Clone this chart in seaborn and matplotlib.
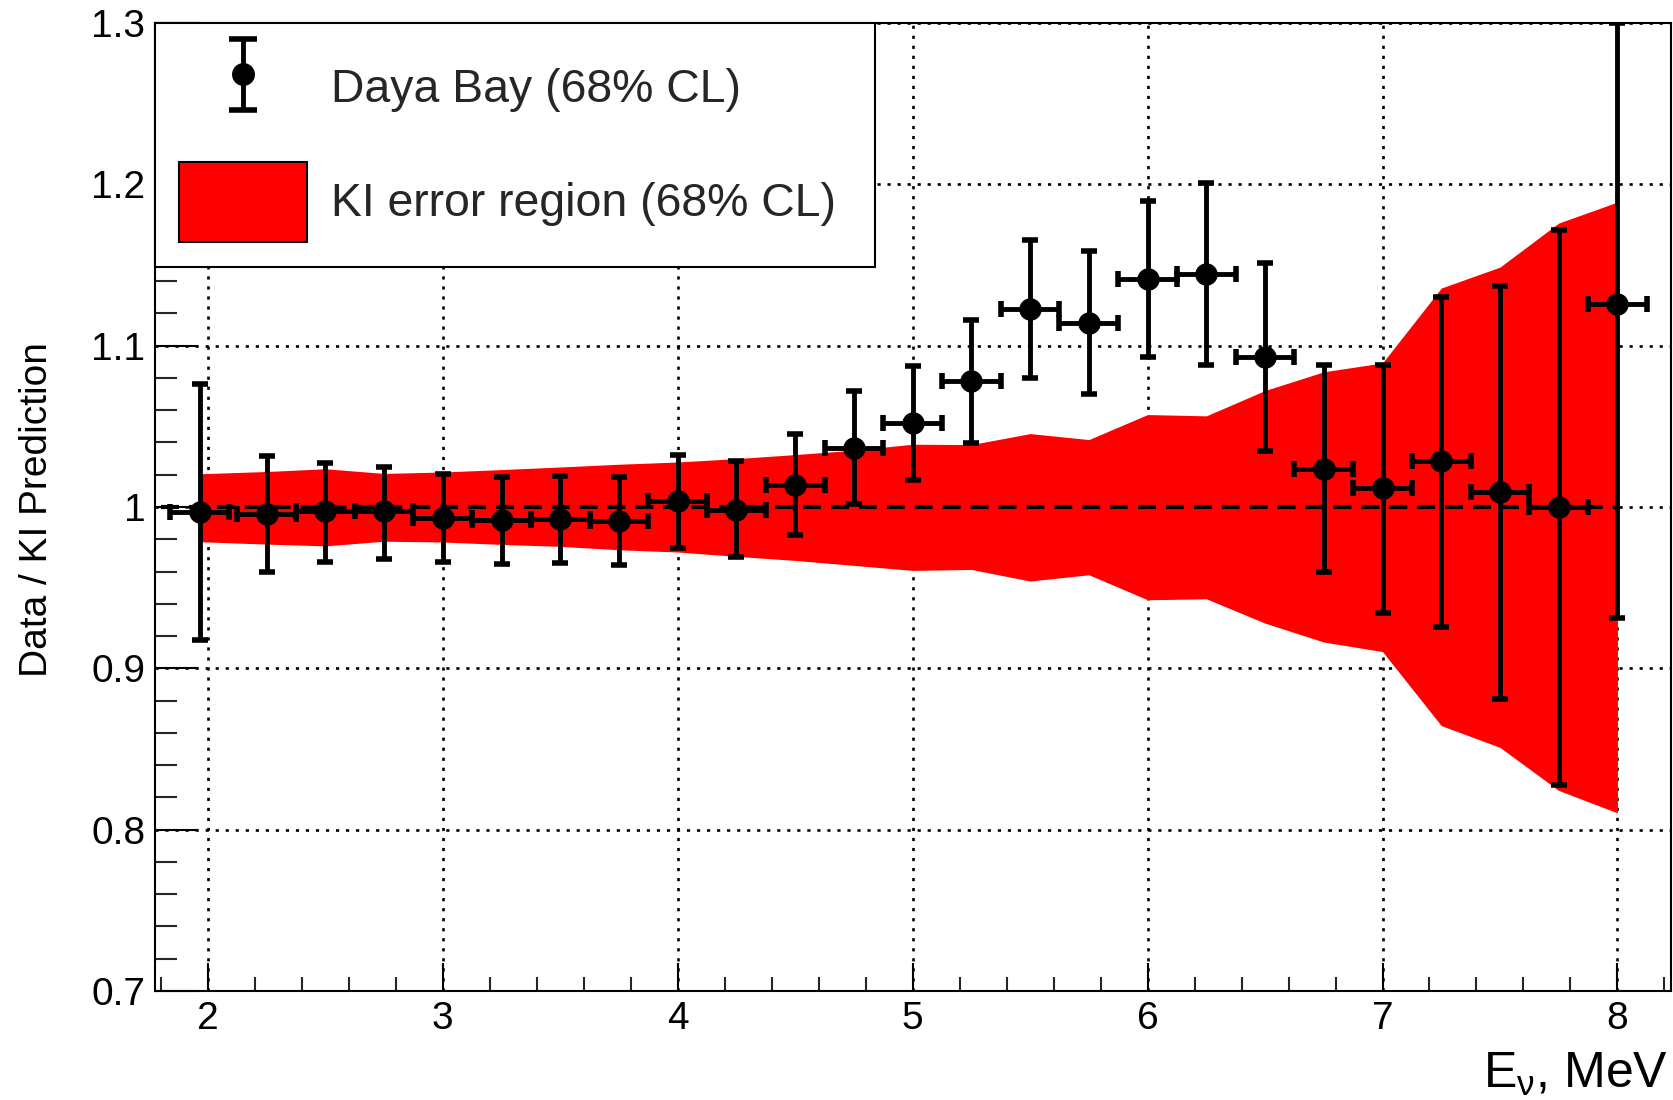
import numpy as np
import matplotlib
matplotlib.use("Agg")
import matplotlib.pyplot as plt
import seaborn as sns
from matplotlib.ticker import MultipleLocator, FixedLocator, FuncFormatter
from matplotlib.patches import Patch
from matplotlib.container import ErrorbarContainer
from matplotlib.legend_handler import HandlerErrorbar

# ---------------- data ----------------
energy = [1.965, 2.25, 2.5, 2.75, 3.0, 3.25, 3.5, 3.75, 4.0, 4.25, 4.5, 4.75,
          5.0, 5.25, 5.5, 5.75, 6.0, 6.25, 6.5, 6.75, 7.0, 7.25, 7.5, 7.75, 8.0]
ratio = [0.997, 0.9955, 0.9975, 0.9975, 0.9934, 0.9917, 0.9923, 0.9913, 1.0035,
         0.9983, 1.0139, 1.0366, 1.0518, 1.0783, 1.1228, 1.1143, 1.1414, 1.1443,
         1.0932, 1.0238, 1.0115, 1.0283, 1.0091, 1.0, 1.1257]
ratio_hi = [1.0765, 1.0315, 1.0275, 1.025, 1.0207, 1.0186, 1.0192, 1.0186, 1.0321,
            1.0283, 1.0451, 1.0721, 1.0874, 1.116, 1.1656, 1.1584, 1.1898, 1.2008,
            1.1512, 1.0878, 1.0883, 1.1304, 1.137, 1.1717, 1.30]
ratio_lo = [0.9176, 0.960, 0.9657, 0.968, 0.9659, 0.9644, 0.9654, 0.9642, 0.9745,
            0.969, 0.9828, 1.0017, 1.0166, 1.0398, 1.0801, 1.0698, 1.0932, 1.088,
            1.0347, 0.9597, 0.9346, 0.9257, 0.8813, 0.8278, 0.9313]
bin_halfwidth = 0.125

band_hi = [1.0206, 1.022, 1.0237, 1.0208, 1.0217, 1.0232, 1.0248, 1.0265, 1.0279,
           1.030, 1.0325, 1.0352, 1.0389, 1.0387, 1.0455, 1.0418, 1.0573, 1.0565,
           1.0722, 1.0838, 1.0893, 1.1357, 1.1487, 1.176, 1.189]
band_lo = [0.9785, 0.977, 0.9759, 0.9788, 0.9783, 0.9768, 0.9756, 0.9735, 0.9721,
           0.9694, 0.9669, 0.9638, 0.9607, 0.9613, 0.9541, 0.958, 0.9425, 0.9431,
           0.928, 0.9163, 0.9104, 0.8645, 0.851, 0.8243, 0.8104]

ref_value = 1.0
ref_from, ref_to = 1.8, 8.0

x_major = [2, 3, 4, 5, 6, 7, 8]
y_major = [0.7, 0.8, 0.9, 1.0, 1.1, 1.2, 1.3]

label_data = "Daya Bay (68% CL)"
label_band = "KI error region (68% CL)"

# ---------------- style ----------------
sns.set_theme(style="ticks")
plt.rcParams["font.family"] = ["Liberation Sans", "DejaVu Sans"]
plt.rcParams["mathtext.fontset"] = "custom"
plt.rcParams["mathtext.rm"] = "Liberation Sans"
plt.rcParams["mathtext.it"] = "Liberation Sans:italic"
plt.rcParams["mathtext.default"] = "regular"

W, H = 1673, 1100
fig = plt.figure(figsize=(W / 100, H / 100), dpi=100)
fig.patch.set_facecolor("white")
ax = fig.add_axes([155 / W, 109 / H, 1516 / W, 968 / H])
ax.set_facecolor("white")

# grid
ax.set_axisbelow(True)
ax.grid(True, which="major", color="black", linestyle=(0, (1.2, 2.6)), linewidth=1.9)

# band
ax.fill_between(energy, band_lo, band_hi, color="#ff0000", linewidth=0, zorder=2)

# reference dashed line
ax.hlines(ref_value, ref_from, ref_to, colors="black", linestyles=(0, (4.3, 2.4)),
          linewidth=3.0, zorder=3)

# error bars
r = np.array(ratio)
yerr = [r - np.array(ratio_lo), np.array(ratio_hi) - r]
ax.errorbar(energy, ratio, xerr=bin_halfwidth, yerr=yerr, fmt="none", ecolor="black",
            elinewidth=3.5, capsize=6, capthick=4, zorder=4)

# points (seaborn)
df = {"energy": energy, "ratio": ratio}
sns.scatterplot(data=df, x="energy", y="ratio", color="black", s=260, linewidth=0,
                zorder=5, ax=ax, legend=False)

# axes limits / ticks
ax.set_xlim(1.775, 8.228)
ax.set_ylim(0.7, 1.3)
ax.xaxis.set_major_locator(FixedLocator(x_major))
ax.xaxis.set_minor_locator(MultipleLocator(0.2))
ax.yaxis.set_major_locator(FixedLocator(y_major))
ax.yaxis.set_minor_locator(MultipleLocator(0.02))
ax.yaxis.set_major_formatter(FuncFormatter(lambda v, _: f"{round(v, 2):g}"))
ax.xaxis.set_major_formatter(FuncFormatter(lambda v, _: f"{round(v, 2):g}"))

ax.tick_params(axis="x", which="major", direction="in", length=20, width=1.5,
               top=False, bottom=True, labelsize=28, pad=7.5, colors="black")
ax.tick_params(axis="x", which="minor", direction="in", length=10, width=1.5,
               top=False, bottom=True)
ax.tick_params(axis="y", which="major", direction="in", length=31, width=1.5,
               right=False, left=True, labelsize=28, pad=7, colors="black")
ax.tick_params(axis="y", which="minor", direction="in", length=16, width=1.5,
               right=False, left=True)

for s in ax.spines.values():
    s.set_visible(True)
    s.set_color("black")
    s.set_linewidth(1.5)
    s.set_zorder(6)

ax.set_xlabel("")
ax.set_ylabel("Data / KI Prediction", fontsize=28, color="black")
ax.yaxis.set_label_coords(-0.078, 0.497)
ax.yaxis.label.set_va("center")

fig.text(1668 / W, 12 / H, r"E$_{\nu}$, MeV", ha="right", va="baseline",
         fontsize=36, color="black")

# legend
proxy = ax.errorbar([np.nan], [np.nan], yerr=[[0.0], [0.0]], fmt="o", color="black",
                    markersize=15.5, elinewidth=3.5, capsize=10, capthick=4)
patch = Patch(facecolor="#ff0000", edgecolor="black", linewidth=1.5)
leg = ax.legend(handles=[proxy, patch], labels=[label_data, label_band],
                loc="upper left", bbox_to_anchor=(0, 1, 720 / 1516, 0), mode="expand",
                borderaxespad=0, frameon=True, fancybox=False, framealpha=1,
                edgecolor="black", fontsize=33.4, handlelength=2.75, handleheight=2.3,
                handletextpad=0.52, labelspacing=0.73, borderpad=0.52,
                handler_map={ErrorbarContainer: HandlerErrorbar(xerr_size=0.5, yerr_size=0.77)})
leg.get_frame().set_linewidth(1.5)
leg.set_zorder(10)

fig.savefig("out.png", dpi=100, facecolor="white")
